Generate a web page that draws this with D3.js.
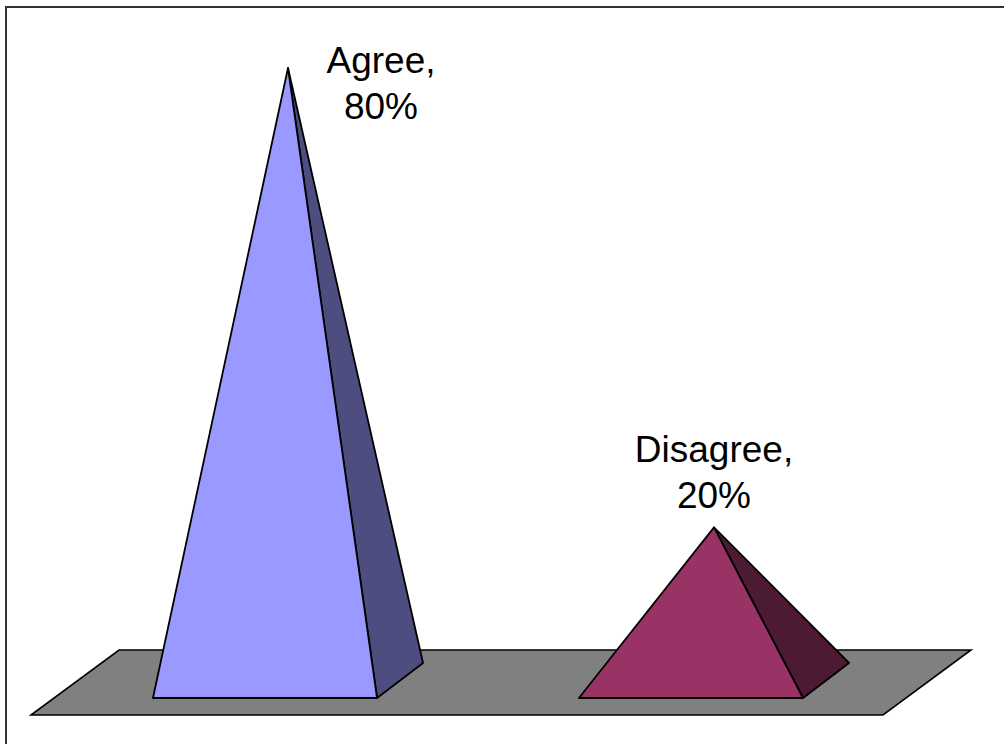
<!DOCTYPE html>
<html>
<head>
<meta charset="utf-8">
<script src="https://cdn.jsdelivr.net/npm/d3@7"></script>
<style>
  body { margin: 0; background: #fff; }
  svg { display: block; }
</style>
</head>
<body>
<div id="chart"></div>
<script>
const categories = ["Agree", "Disagree"];
const values = [80, 20];
const valueLabels = ["80%", "20%"];
const frontColors = ["#9999FF", "#993366"];
const sideColors = ["#4D4D80", "#4D1A33"];

const width = 1004,
  height = 744;
const svg = d3.select("#chart").append("svg").attr("width", width).attr("height", height);

// depth offsets (pseudo 3d)
const depth = [46, -35];
const floorDepth = [88, -65];
const baseFront = 698;

const x = d3.scaleBand().domain(categories).range([52, 904]).paddingInner(0.474).paddingOuter(0.237);
const y = d3.scaleLinear().domain([0, 80]).range([baseFront + depth[1] / 2, 68]);

// outer frame (only top and left visible)
svg
  .append("path")
  .attr("d", `M6,${height}V7H${width}`)
  .attr("fill", "none")
  .attr("stroke", "#333")
  .attr("stroke-width", 2);

// floor
const fx0 = x.range()[0] - 21,
  fx1 = x.range()[1] - 21,
  fy = 715;
svg
  .append("path")
  .attr(
    "d",
    d3.line()([
      [fx0, fy],
      [fx1, fy],
      [fx1 + floorDepth[0], fy + floorDepth[1]],
      [fx0 + floorDepth[0], fy + floorDepth[1]]
    ]) + "Z"
  )
  .attr("fill", "#808080")
  .attr("stroke", "#000")
  .attr("stroke-width", 1.6);

const data = categories.map((c, i) => ({ cat: c, value: values[i], label: valueLabels[i], i }));

const g = svg
  .append("g")
  .attr("stroke", "#000")
  .attr("stroke-width", 1.8)
  .attr("stroke-linejoin", "round");

const pyr = g.selectAll("g.pyr").data(data).join("g").attr("class", "pyr");

function apex(d) {
  return [x(d.cat) + x.bandwidth() / 2 + depth[0] / 2, y(d.value)];
}

pyr
  .append("path")
  .attr("d", d => {
    const fr = x(d.cat) + x.bandwidth();
    return d3.line()([apex(d), [fr, baseFront], [fr + depth[0], baseFront + depth[1]]]) + "Z";
  })
  .attr("fill", d => sideColors[d.i]);

pyr
  .append("path")
  .attr("d", d => d3.line()([apex(d), [x(d.cat), baseFront], [x(d.cat) + x.bandwidth(), baseFront]]) + "Z")
  .attr("fill", d => frontColors[d.i]);

// labels
const lineH = 46;
const labels = svg
  .append("g")
  .attr("font-family", "Liberation Sans, Arial, sans-serif")
  .attr("font-size", 37)
  .attr("text-anchor", "middle")
  .attr("fill", "#000");

data.forEach(d => {
  const [ax, ay] = apex(d);
  let lx = ax,
    ly = ay - 19 - lineH;
  if (ly < 73) {
    ly = 73;
    lx = ax + 93;
  }
  const t = labels.append("text").attr("x", lx).attr("y", ly);
  t.append("tspan").attr("x", lx).text(d.cat + ",");
  t.append("tspan").attr("x", lx).attr("dy", lineH).text(d.label);
});
</script>
</body>
</html>
